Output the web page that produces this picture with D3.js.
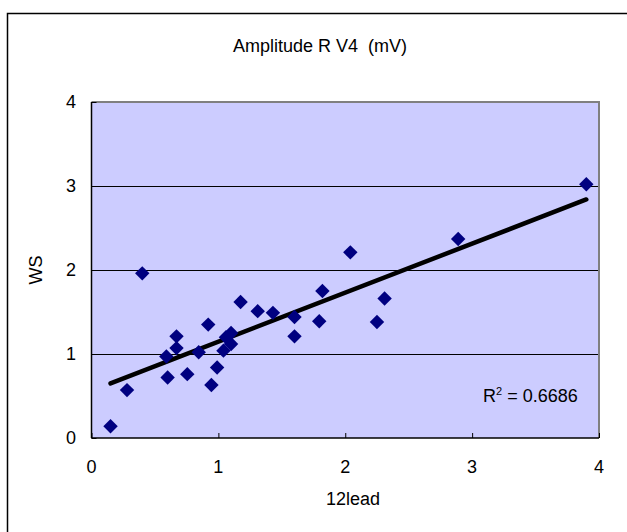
<!DOCTYPE html>
<html>
<head>
<meta charset="utf-8">
<script src="https://cdn.jsdelivr.net/npm/d3@7"></script>
<style>
  body { margin: 0; background: #fff; }
  text { font-family: "Liberation Sans", Arial, sans-serif; fill: #000; white-space: pre; }
</style>
</head>
<body>
<div id="chart"></div>
<script>
// data
const lead12 = [0.15, 0.28, 0.40, 0.59, 0.60, 0.67, 0.67, 0.755, 0.845, 0.92,
                0.945, 0.99, 1.04, 1.06, 1.10, 1.10, 1.175, 1.31, 1.43, 1.60,
                1.60, 1.795, 1.82, 2.04, 2.25, 2.31, 2.89, 3.90];
const ws = [0.14, 0.57, 1.96, 0.97, 0.72, 1.21, 1.07, 0.76, 1.02, 1.35,
            0.63, 0.84, 1.04, 1.20, 1.25, 1.12, 1.62, 1.51, 1.49, 1.44,
            1.21, 1.39, 1.75, 2.21, 1.38, 1.66, 2.37, 3.02];
const xTicks = [0, 1, 2, 3, 4];
const yTicks = [0, 1, 2, 3, 4];
const chartTitle = "Amplitude R V4  (mV)";
const xTitle = "12lead";
const yTitle = "WS";
const r2Label = "0.6686";

const width = 627, height = 532;
const plot = { left: 91.5, right: 599, top: 102, bottom: 438 };
const fs = "18px";

const svg = d3.select("#chart").append("svg")
    .attr("width", width)
    .attr("height", height);

// outer chart frame
svg.append("path")
    .attr("d", `M7.5,${height + 5}V13.5H${width + 5}`)
    .attr("fill", "none")
    .attr("stroke", "#000")
    .attr("stroke-width", 1.5);

const x = d3.scaleLinear().domain([0, 4]).range([plot.left, plot.right]);
const y = d3.scaleLinear().domain([0, 4]).range([plot.bottom, plot.top]);

// plot area
svg.append("rect")
    .attr("x", plot.left)
    .attr("y", plot.top)
    .attr("width", plot.right - plot.left)
    .attr("height", plot.bottom - plot.top)
    .attr("fill", "#ccccff");

// grid lines
svg.append("g")
    .selectAll("line")
    .data(yTicks.filter(d => d > 0 && d < 4))
    .join("line")
    .attr("x1", plot.left)
    .attr("x2", plot.right)
    .attr("y1", d => Math.round(y(d)) + 0.5)
    .attr("y2", d => Math.round(y(d)) + 0.5)
    .attr("stroke", "#000")
    .attr("stroke-width", 1);

// top / right border, grey
svg.append("path")
    .attr("d", `M${plot.left},${plot.top}H${plot.right}V${plot.bottom}`)
    .attr("fill", "none")
    .attr("stroke", "#808080")
    .attr("stroke-width", 2);

// axes, ticks pointing inward
const xAxis = d3.axisTop(x).tickValues(xTicks).tickSize(5).tickFormat("");
svg.append("g")
    .attr("transform", `translate(0,${plot.bottom})`)
    .call(xAxis)
    .call(g => g.select(".domain").attr("d", `M${plot.left},0H${plot.right}`).attr("stroke-width", 1.5));

const yAxis = d3.axisRight(y).tickValues(yTicks).tickSize(5).tickFormat("");
svg.append("g")
    .attr("transform", `translate(${plot.left},0)`)
    .call(yAxis)
    .call(g => g.select(".domain").attr("d", `M0,${plot.top}V${plot.bottom}`).attr("stroke-width", 1.5));

// tick labels
svg.append("g")
    .selectAll("text")
    .data(xTicks)
    .join("text")
    .attr("x", d => x(d))
    .attr("y", 473)
    .attr("text-anchor", "middle")
    .style("font-size", fs)
    .text(d => d);

svg.append("g")
    .selectAll("text")
    .data(yTicks)
    .join("text")
    .attr("x", 76)
    .attr("y", d => y(d) + 6)
    .attr("text-anchor", "end")
    .style("font-size", fs)
    .text(d => d);

// titles
svg.append("text")
    .attr("x", 320)
    .attr("y", 52)
    .attr("text-anchor", "middle")
    .style("font-size", fs)
    .text(chartTitle);

svg.append("text")
    .attr("x", 353)
    .attr("y", 505)
    .attr("text-anchor", "middle")
    .style("font-size", fs)
    .text(xTitle);

svg.append("text")
    .attr("transform", `translate(42,${(plot.top + plot.bottom) / 2}) rotate(-90)`)
    .attr("text-anchor", "middle")
    .style("font-size", fs)
    .text(yTitle);

// least squares trend line
const pts = lead12.map((v, i) => [v, ws[i]]);
const mx = d3.mean(lead12), my = d3.mean(ws);
const slope = d3.sum(pts, p => (p[0] - mx) * (p[1] - my)) / d3.sum(pts, p => (p[0] - mx) ** 2);
const icpt = my - slope * mx;
const xr = d3.extent(lead12);

svg.append("line")
    .attr("x1", x(xr[0]))
    .attr("y1", y(icpt + slope * xr[0]))
    .attr("x2", x(xr[1]))
    .attr("y2", y(icpt + slope * xr[1]))
    .attr("stroke", "#000")
    .attr("stroke-width", 4.5)
    .attr("stroke-linecap", "round");

// diamonds
const diamond = d3.symbol().type(d3.symbolSquare).size(104);
svg.append("g")
    .selectAll("path")
    .data(pts)
    .join("path")
    .attr("d", diamond)
    .attr("transform", d => `translate(${x(d[0])},${y(d[1])}) rotate(45)`)
    .attr("fill", "#000080");

// R squared label
const r2 = svg.append("text")
    .attr("x", 483)
    .attr("y", 402)
    .style("font-size", fs);
r2.append("tspan").text("R");
r2.append("tspan").attr("dy", -7).style("font-size", "11px").text("2");
r2.append("tspan").attr("dy", 7).text(" = " + r2Label);
</script>
</body>
</html>
